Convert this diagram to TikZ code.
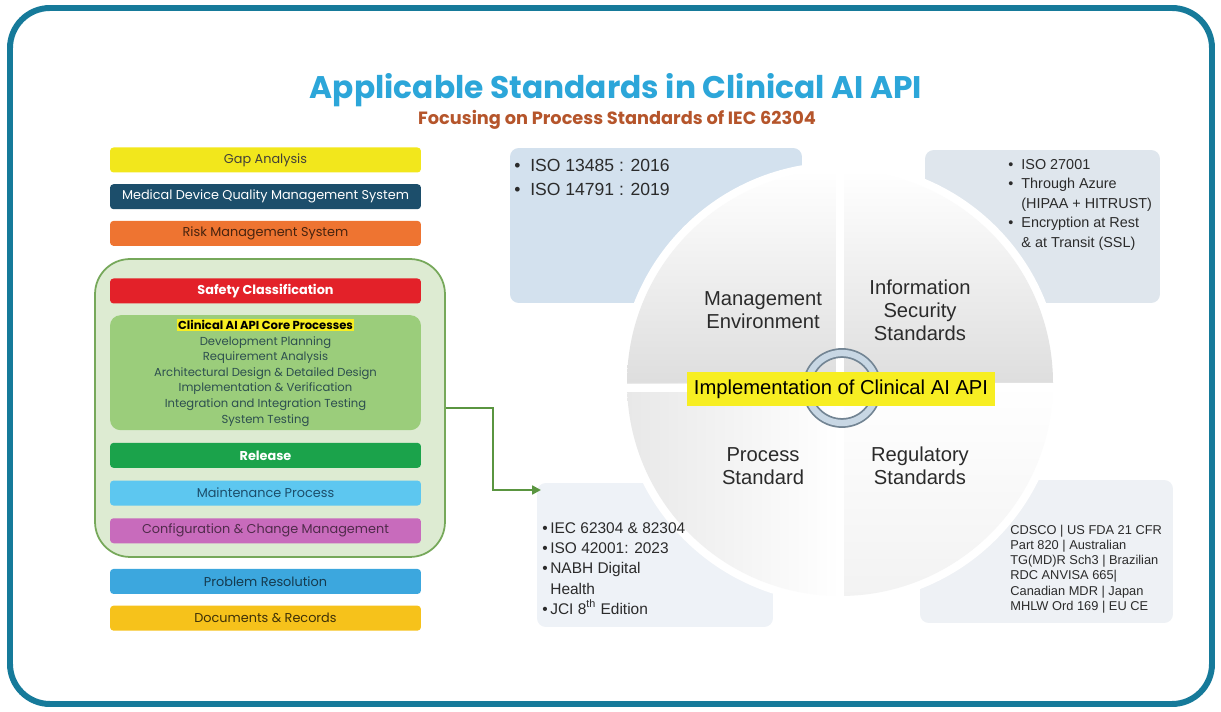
\documentclass[tikz,border=0pt]{standalone}
\usepackage{fontspec}
\setmainfont{Liberation Sans}
\newfontfamily\geofont{Poppins}
\usepackage{xcolor}
\usetikzlibrary{positioning,calc,arrows.meta}

\definecolor{frameblue}{HTML}{167A9A}
\definecolor{titleblue}{HTML}{2CA6D9}
\definecolor{subbrown}{HTML}{B5552B}
\definecolor{gapyellow}{HTML}{F2E71C}
\definecolor{qmsnavy}{HTML}{1C4E6B}
\definecolor{riskorange}{HTML}{EE7431}
\definecolor{contfill}{HTML}{DDEBD2}
\definecolor{contdraw}{HTML}{76A85A}
\definecolor{safred}{HTML}{E32129}
\definecolor{corefill}{HTML}{9BCD7B}
\definecolor{relgreen}{HTML}{1BA34B}
\definecolor{maintblue}{HTML}{5DC7F0}
\definecolor{configpink}{HTML}{C86BBC}
\definecolor{probblue}{HTML}{3CA7DE}
\definecolor{docamber}{HTML}{F6C21B}
\definecolor{panelTL}{HTML}{D3E1EE}
\definecolor{panelTR}{HTML}{DFE6ED}
\definecolor{panelBL}{HTML}{EEF2F7}
\definecolor{panelBR}{HTML}{EEF1F5}
\definecolor{labelyellow}{HTML}{F7EE22}
\definecolor{ringblue}{HTML}{A3BDD2}
\definecolor{arrowgreen}{HTML}{5A9540}
\definecolor{coretext}{HTML}{2D4F4F}
\definecolor{bodytext}{HTML}{2B2B2B}

\begin{document}
\begin{tikzpicture}[
    x=0.02cm, y=-0.02cm,
    bar/.style={rectangle, rounded corners=2pt, minimum width=6.22cm, minimum height=0.5cm, inner sep=0pt, font=\geofont\fontsize{7.3}{8}\selectfont},
    panel/.style={rectangle, rounded corners=5pt, inner sep=0pt},
    quadtext/.style={align=center, text=bodytext, font=\fontsize{11.5}{13}\selectfont},
    listtext/.style={align=left, inner sep=0pt, anchor=north west, text=bodytext},
    arrow/.style={-{Triangle[length=5pt, width=5pt]}, line width=1.4pt, draw=arrowgreen}
]
\useasboundingbox (0,0) rectangle (1221,712);
\draw[frameblue, line width=3.4pt, rounded corners=0.8cm] (10,8) rectangle (1212,704);

% title
\node[text=titleblue, font=\geofont\bfseries\fontsize{17.8}{20}\selectfont] (title) at (616,90) {Applicable Standards in Clinical AI API};
\node[text=subbrown, font=\geofont\bfseries\fontsize{10.1}{12}\selectfont] (subtitle) at (617,120) {Focusing on Process Standards of IEC 62304};

% left column
\node[bar, fill=gapyellow, text=black!70!yellow!50!black] (gap) at (265.5,160) {Gap Analysis};
\node[bar, fill=qmsnavy, text=white, below=0.22cm of gap] (qms) {Medical Device Quality Management System};
\node[bar, fill=riskorange, text=black!70!riskorange, below=0.22cm of qms] (risk) {Risk Management System};

\node[rectangle, rounded corners=0.7cm, fill=contfill, draw=contdraw, line width=1pt, minimum width=7cm, minimum height=5.96cm] (cont) at (270,408) {};

\node[bar, fill=safred, text=white, font=\geofont\bfseries\fontsize{7.3}{8}\selectfont] (safety) at (265.5,291) {Safety Classification};
\node[bar, fill=corefill, minimum height=2.3cm, rounded corners=6pt, align=center, text=coretext, font=\geofont\fontsize{6.6}{8.9}\selectfont, below=0.22cm of safety] (core)
    {{\setlength{\fboxsep}{0.6pt}\colorbox{labelyellow}{\textcolor{black}{\bfseries Clinical AI API Core Processes}}}\\
     Development Planning\\ Requirement Analysis\\ Architectural Design \& Detailed Design\\
     Implementation \& Verification\\ Integration and Integration Testing\\ System Testing};
\node[bar, fill=relgreen, text=white, font=\geofont\bfseries\fontsize{7.3}{8}\selectfont, below=0.24cm of core] (release) {Release};
\node[bar, fill=maintblue, text=qmsnavy, below=0.24cm of release] (maint) {Maintenance Process};
\node[bar, fill=configpink, text=black!60!configpink, below=0.24cm of maint] (config) {Configuration \& Change Management};
\node[bar, fill=probblue, text=black!65!probblue, below=0.5cm of config] (problem) {Problem Resolution};
\node[bar, fill=docamber, text=black!75!docamber, below=0.22cm of problem] (docs) {Documents \& Records};

% panels
\node[panel, fill=panelTL, minimum width=5.84cm, minimum height=3.1cm] (mgmtpanel) at (656,225.5) {};
\node[panel, fill=panelTR, minimum width=4.7cm, minimum height=3.06cm] (secpanel) at (1042.5,226.5) {};
\node[panel, fill=panelBL, minimum width=4.72cm, minimum height=2.88cm] (procpanel) at (655,555) {};
\node[panel, fill=panelBR, minimum width=5.06cm, minimum height=2.86cm] (regpanel) at (1046.5,551.5) {};

% circle
\fill[white] (840,383) circle (221);
\shade[top color=white, middle color=white, bottom color=gray!26] (840,383) -- (627,383) arc[start angle=180, end angle=270, radius=213] -- cycle;
\shade[top color=white, middle color=white, bottom color=gray!26] (840,383) -- (840,170) arc[start angle=270, end angle=360, radius=213] -- cycle;
\shade[left color=gray!18, right color=white] (840,383) -- (627,383) arc[start angle=180, end angle=90, radius=213] -- cycle;
\shade[top color=white, bottom color=gray!10] (840,383) -- (840,596) arc[start angle=90, end angle=0, radius=213] -- cycle;
\draw[white, line width=5pt] (840,160) -- (840,606);
\draw[white, line width=4pt] (617,388) -- (1063,388);

% ring
\draw[ringblue!70!black, line width=5.6pt] (842,388) circle (35);
\draw[ringblue!60!white, line width=3.6pt] (842,388) circle (35);

\node[quadtext] (mgmt) at (763,310) {Management\\Environment};
\node[quadtext] (sec) at (920,310) {Information\\Security\\Standards};
\node[quadtext] (proc) at (763,466) {Process\\Standard};
\node[quadtext] (reg) at (920,466) {Regulatory\\Standards};

\node[fill=labelyellow, minimum width=6.16cm, minimum height=0.7cm, inner sep=0pt, font=\fontsize{11.5}{13}\selectfont] (impl) at (841,389) {Implementation of Clinical AI API};

% panel lists
\node[listtext, font=\fontsize{10}{13.6}\selectfont] (mgmtlist) at (514,159)
    {\textbullet\ \ ISO 13485 : 2016\\ \textbullet\ \ ISO 14791 : 2019};
\node[listtext, font=\fontsize{8.2}{11.1}\selectfont] (seclist) at (1008,159)
    {\textbullet\ \ ISO 27001\\ \textbullet\ \ Through Azure\\ \phantom{\textbullet}\ \ (HIPAA + HITRUST)\\
     \textbullet\ \ Encryption at Rest\\ \phantom{\textbullet}\ \ \& at Transit (SSL)};
\node[listtext, font=\fontsize{8.8}{11.6}\selectfont] (proclist) at (542,522)
    {\textbullet\,IEC 62304 \& 82304\\ \textbullet\,ISO 42001: 2023\\ \textbullet\,NABH Digital\\
     \phantom{\textbullet}\,Health\\ \textbullet\,JCI 8\textsuperscript{th} Edition};
\node[listtext, font=\fontsize{7.3}{8.6}\selectfont] (reglist) at (1010,525)
    {CDSCO | US FDA 21 CFR\\ Part 820 | Australian\\ TG(MD)R Sch3 | Brazilian\\ RDC ANVISA 665|\\
     Canadian MDR | Japan\\ MHLW Ord 169 | EU CE};

% connector
\coordinate (arrowend) at (541,490);
\draw[arrow] (cont.east) -- ++(47,0) |- (arrowend);
\end{tikzpicture}
\end{document}
